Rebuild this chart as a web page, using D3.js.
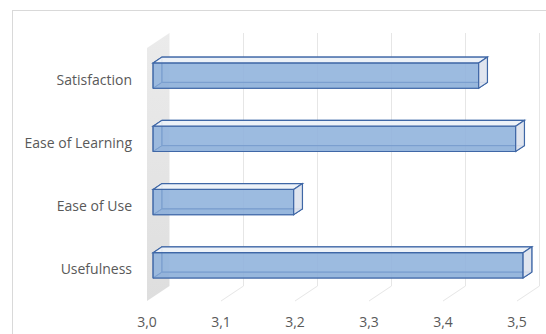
<!DOCTYPE html>
<html><head><meta charset="utf-8">
<script src="https://cdn.jsdelivr.net/npm/d3@7"></script>
<style>html,body{margin:0;padding:0;background:#fff;}svg{display:block;}</style>
</head><body><svg id="c" width="546" height="334"></svg>
<script>
const categories = ["Satisfaction", "Ease of Learning", "Ease of Use", "Usefulness"];
const values = [3.44, 3.49, 3.19, 3.50];
const tickValues = [3.0, 3.1, 3.2, 3.3, 3.4, 3.5];
const tickLabels = ["3,0", "3,1", "3,2", "3,3", "3,4", "3,5"];

const svg = d3.select("#c");
const font = "'Open Sans', 'Liberation Sans', sans-serif";

// outer chart border
svg.append("rect").attr("x", 12.5).attr("y", 10.5).attr("width", 560).attr("height", 360)
  .attr("fill", "#fff").attr("stroke", "#d9d9d9").attr("stroke-width", 1);

const x = d3.scaleLinear().domain([3.0, 3.5]).range([147, 517]);
const y = d3.scaleBand().domain(categories).range([48, 301]).paddingInner(0.6).paddingOuter(0.3);
const DX = 22.5, DY = -15;
const yTop = 48, yBot = 301;
const P = (v, yy, d) => [x(v) + d * DX, yy + d * DY];
const poly = pts => pts.map(p => p.join(",")).join(" ");

// left side wall at 3.0
const grad = svg.append("defs").append("linearGradient").attr("id", "wall")
  .attr("x1", 0).attr("y1", 0).attr("x2", 0).attr("y2", 1);
grad.append("stop").attr("offset", "0%").attr("stop-color", "#ebebeb");
grad.append("stop").attr("offset", "100%").attr("stop-color", "#dedede");
svg.append("polygon")
  .attr("points", poly([P(3.0, yTop, 0), P(3.0, yTop, 1), P(3.0, yBot, 1), P(3.0, yBot, 0)]))
  .attr("fill", "url(#wall)");

// back gridlines and floor gridlines
tickValues.slice(1).forEach(v => {
  const a = P(v, yTop, 1), b = P(v, yBot, 1), c = P(v, yBot, 0);
  svg.append("line").attr("x1", a[0]).attr("y1", a[1]).attr("x2", b[0]).attr("y2", b[1])
    .attr("stroke", "#e6e6e6").attr("stroke-width", 1);
  svg.append("line").attr("x1", b[0]).attr("y1", b[1]).attr("x2", c[0]).attr("y2", c[1])
    .attr("stroke", "#e6e6e6").attr("stroke-width", 1);
});

// bars (transparent 3D boxes)
const f1 = 0.27, f2 = 0.66;
const edge = "#3f67a6";
categories.forEach((cat, i) => {
  const v = values[i];
  const y0 = y(cat), y1 = y(cat) + y.bandwidth();
  const g = svg.append("g");
  const F = (vv, yy) => P(vv, yy, f1);
  const B = (vv, yy) => P(vv, yy, f2);
  g.append("polygon").attr("points", poly([B(3, y0), B(v, y0), B(v, y1), B(3, y1)]))
    .attr("fill", "#9dbbe0").attr("fill-opacity", 0.6).attr("stroke", edge).attr("stroke-width", 1);
  g.append("polygon").attr("points", poly([F(3, y1), F(v, y1), B(v, y1), B(3, y1)]))
    .attr("fill", "#7d9fcc").attr("fill-opacity", 0.6).attr("stroke", edge).attr("stroke-width", 1);
  g.append("polygon").attr("points", poly([F(3, y0), B(3, y0), B(3, y1), F(3, y1)]))
    .attr("fill", "#9dbbe0").attr("fill-opacity", 0.5).attr("stroke", edge).attr("stroke-width", 1);
  g.append("polygon").attr("points", poly([F(3, y0), F(v, y0), F(v, y1), F(3, y1)]))
    .attr("fill", "#8fb1dc").attr("fill-opacity", 0.75).attr("stroke", edge).attr("stroke-width", 1.2);
  g.append("polygon").attr("points", poly([F(3, y0), B(3, y0), B(v, y0), F(v, y0)]))
    .attr("fill", "#f2f5fa").attr("fill-opacity", 0.9).attr("stroke", edge).attr("stroke-width", 1.2);
  g.append("polygon").attr("points", poly([F(v, y0), B(v, y0), B(v, y1), F(v, y1)]))
    .attr("fill", "#e3e7ef").attr("fill-opacity", 0.9).attr("stroke", edge).attr("stroke-width", 1.2);
});

// category labels
categories.forEach(cat => {
  const c = P(3, y(cat) + y.bandwidth() / 2, 0);
  svg.append("text").attr("x", 132).attr("y", c[1]).attr("dy", "0.35em")
    .attr("text-anchor", "end").attr("font-family", font).attr("font-size", 14)
    .attr("fill", "#595959").text(cat);
});

// value tick labels
tickValues.forEach((v, i) => {
  svg.append("text").attr("x", x(v)).attr("y", 327).attr("text-anchor", "middle")
    .attr("font-family", font).attr("font-size", 14).attr("fill", "#595959").text(tickLabels[i]);
});
</script></body></html>
